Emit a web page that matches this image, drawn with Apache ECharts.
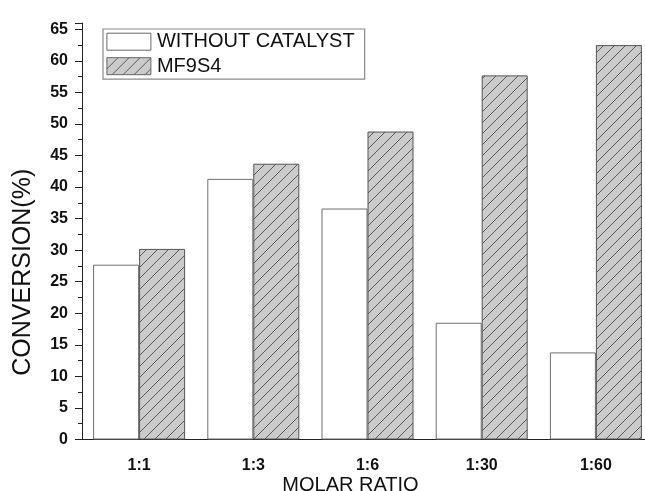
<!DOCTYPE html>
<html>
<head>
<meta charset="utf-8">
<script src="https://cdn.jsdelivr.net/npm/echarts@6/dist/echarts.min.js"></script>
<style>html,body{margin:0;padding:0;background:#fff;overflow:hidden;}#c{width:645px;height:491px;}</style>
</head>
<body>
<div id="c"></div>
<script>
const categories = ['1:1', '1:3', '1:6', '1:30', '1:60'];
const withoutCatalyst = [27.7, 41.3, 36.6, 18.5, 13.8];
const mf9s4 = [30.2, 43.7, 48.8, 57.7, 62.5];
const seriesNames = ['WITHOUT CATALYST', 'MF9S4'];
const xName = 'MOLAR RATIO';
const yName = 'CONVERSION(%)';

function hatch() {
  const s = 11;
  const c = document.createElement('canvas');
  c.width = s; c.height = s;
  const g = c.getContext('2d');
  g.fillStyle = '#cbcbcb';
  g.fillRect(0, 0, s, s);
  g.strokeStyle = '#5a5a5a';
  g.lineWidth = 1;
  g.beginPath();
  g.moveTo(-1, s + 1); g.lineTo(s + 1, -1);
  g.moveTo(-1, 1); g.lineTo(1, -1);
  g.moveTo(s - 1, s + 1); g.lineTo(s + 1, s - 1);
  g.stroke();
  return c;
}

const font = 'Liberation Sans, Arial, sans-serif';
const chart = echarts.init(document.getElementById('c'), null, {renderer: 'canvas'});
chart.setOption({
  animation: false,
  backgroundColor: '#fff',
  grid: {left: 82, top: 23, width: 571, bottom: 51.5, outerBoundsMode: 'none', containLabel: false},
  legend: {
    left: 103, top: 29,
    orient: 'vertical',
    data: seriesNames,
    icon: 'rect',
    itemWidth: 44, itemHeight: 17, itemGap: 4.5,
    padding: [2.7, 10, 3, 3.4],
    borderColor: '#8a8a8a', borderWidth: 1.2,
    textStyle: {fontFamily: font, fontSize: 20, color: '#111', padding: [0, 0, 0, 1]},
    itemStyle: {borderColor: '#666', borderWidth: 1}
  },
  xAxis: {
    type: 'category',
    data: categories,
    boundaryGap: true,
    axisLine: {lineStyle: {color: '#222', width: 1}},
    axisTick: {alignWithLabel: true, length: 7, lineStyle: {color: '#222'}},
    axisLabel: {fontFamily: font, fontSize: 16, fontWeight: 'bold', color: '#111', margin: 18},
    name: xName,
    nameLocation: 'middle',
    nameGap: 36,
    nameMoveOverlap: false,
    nameTextStyle: {fontFamily: font, fontSize: 20, color: '#111', padding: [0, 34, 0, 0]}
  },
  yAxis: {
    type: 'value',
    min: 0, max: 66, interval: 5,
    splitLine: {show: false},
    axisLine: {show: true, lineStyle: {color: '#222', width: 1}},
    axisTick: {show: true, length: 7, lineStyle: {color: '#222'}},
    minorTick: {show: true, splitNumber: 2, length: 4, lineStyle: {color: '#222'}},
    axisLabel: {fontFamily: font, fontSize: 16, fontWeight: 'bold', color: '#111', margin: 14, showMaxLabel: false},
    name: yName,
    nameLocation: 'middle',
    nameGap: 46,
    nameRotate: 90,
    nameMoveOverlap: false,
    nameTextStyle: {fontFamily: font, fontSize: 25, color: '#111', padding: [0, 82, 0, 0]}
  },
  series: [
    {
      name: seriesNames[0], type: 'bar', data: withoutCatalyst,
      barWidth: 46, barGap: '0%',
      itemStyle: {color: '#ffffff', borderColor: '#6e6e6e', borderWidth: 1}
    },
    {
      name: seriesNames[1], type: 'bar', data: mf9s4,
      barWidth: 46, barGap: '0%',
      itemStyle: {color: {image: hatch(), repeat: 'repeat'}, borderColor: '#555', borderWidth: 1}
    }
  ]
});
</script>
</body>
</html>
